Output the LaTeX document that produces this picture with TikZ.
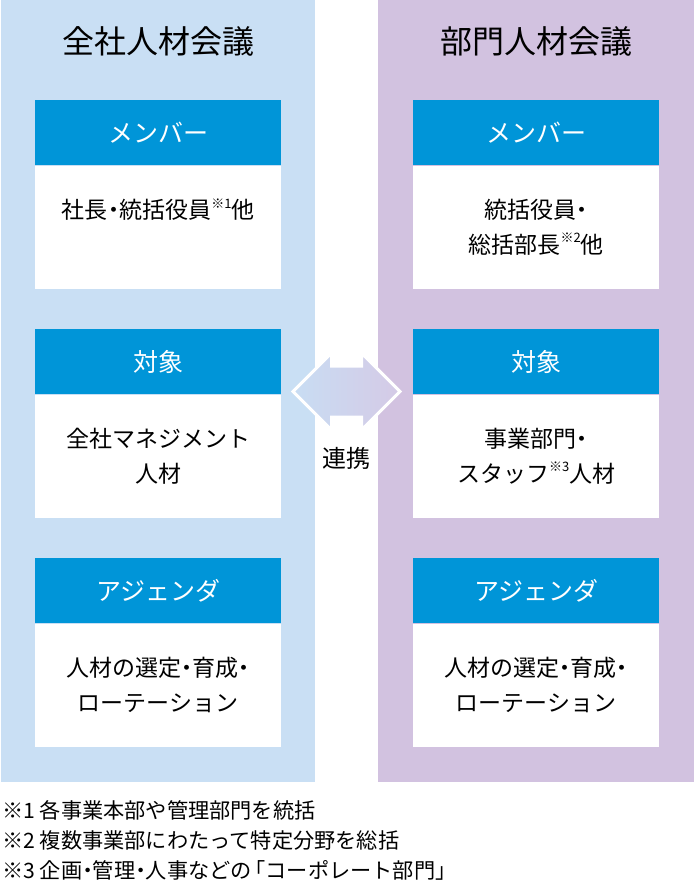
\documentclass[tikz,border=0pt]{standalone}
\usepackage{fontspec}
\setmainfont{Noto Sans CJK JP}
\definecolor{panelL}{RGB}{201,223,244}
\definecolor{panelR}{RGB}{210,194,224}
\definecolor{hdr}{RGB}{0,149,216}
\definecolor{arrL}{RGB}{200,221,243}
\definecolor{arrR}{RGB}{213,202,230}
\newcommand{\dt}{\kern-.25em・\kern-.25em}
\newcommand{\kome}[1]{\raisebox{.45em}{\fontsize{13}{13}\selectfont ※#1}}
\begin{document}
\begin{tikzpicture}[x=1pt,y=-1pt,
  panel/.style={draw=none,inner sep=0pt,minimum height=782pt,anchor=north west},
  titletxt/.style={inner sep=0pt,font=\fontsize{32}{32}\selectfont,text height=28.16pt,text depth=3.84pt},
  hdrbox/.style={anchor=north west,fill=hdr,text=white,inner sep=0pt,minimum width=246pt,minimum height=65pt,
    font=\fontsize{25}{25}\selectfont,text height=22pt,text depth=3pt},
  bodybox/.style={anchor=north west,fill=white,inner sep=0pt,minimum width=246pt,minimum height=123pt},
  bodyline/.style={inner sep=0pt,font=\fontsize{23}{23}\selectfont,text height=20.24pt,text depth=2.76pt},
  linktxt/.style={inner sep=0pt,font=\fontsize{24}{24}\selectfont,text height=21.12pt,text depth=2.88pt},
  notetxt/.style={inner sep=0pt,anchor=west,font=\fontsize{21.2}{21.2}\selectfont,text height=18.66pt,text depth=2.54pt},
  linkarrow/.style={left color=arrL,right color=arrR,draw=white,line width=3pt,line join=miter}
]
\useasboundingbox (0,0) rectangle (694,886);
% panels
\node[panel,fill=panelL,minimum width=314pt] (pL) at (1,0) {};
\node[panel,fill=panelR,minimum width=316pt] (pR) at (378,0) {};
% titles
\node[titletxt] (tL) at (158,41) {全社人材会議};
\node[titletxt] (tR) at (536,41) {部門人材会議};
% left column
\node[hdrbox] (hL1) at (35,100) {メンバー};
\node[bodybox] (bL1) at (hL1.south west) {};
\node[hdrbox] (hL2) at (35,329) {対象};
\node[bodybox] (bL2) at (hL2.south west) {};
\node[hdrbox] (hL3) at (35,558) {アジェンダ};
\node[bodybox] (bL3) at (hL3.south west) {};
% right column
\node[hdrbox] (hR1) at (413,100) {メンバー};
\node[bodybox] (bR1) at (hR1.south west) {};
\node[hdrbox] (hR2) at (413,329) {対象};
\node[bodybox] (bR2) at (hR2.south west) {};
\node[hdrbox] (hR3) at (413,558) {アジェンダ};
\node[bodybox] (bR3) at (hR3.south west) {};
% body texts
\node[bodyline] (tL1a) at ([yshift=-44.5pt]bL1.north) {社長\dt 統括役員\kome{1}他};
\node[bodyline] (tL2a) at ([yshift=-44.5pt]bL2.north) {全社マネジメント};
\node[bodyline] (tL2b) at ([yshift=-79pt]bL2.north) {人材};
\node[bodyline] (tL3a) at ([yshift=-44.5pt]bL3.north) {人材の選定\dt 育成\dt};
\node[bodyline] (tL3b) at ([yshift=-79pt]bL3.north) {ローテーション};
\node[bodyline] (tR1a) at ([yshift=-44.5pt]bR1.north) {統括役員\dt};
\node[bodyline] (tR1b) at ([yshift=-79pt]bR1.north) {総括部長\kome{2}他};
\node[bodyline] (tR2a) at ([yshift=-44.5pt]bR2.north) {事業部門\dt};
\node[bodyline] (tR2b) at ([yshift=-79pt]bR2.north) {スタッフ\kome{3}人材};
\node[bodyline] (tR3a) at ([yshift=-44.5pt]bR3.north) {人材の選定\dt 育成\dt};
\node[bodyline] (tR3b) at ([yshift=-79pt]bR3.north) {ローテーション};
% link arrow
\coordinate (mid) at (346.5,391.5);
\shadedraw[linkarrow] ([shift={(-53.5,0)}]mid) -- ([shift={(-15,-38.5)}]mid) -- ([shift={(-15,-25.5)}]mid)
  -- ([shift={(15,-25.5)}]mid) -- ([shift={(15,-38.5)}]mid) -- ([shift={(53.5,0)}]mid)
  -- ([shift={(15,38.5)}]mid) -- ([shift={(15,25.5)}]mid) -- ([shift={(-15,25.5)}]mid)
  -- ([shift={(-15,38.5)}]mid) -- cycle;
\node[linktxt] (link) at (346.5,458.5) {連携};
% footnotes
\node[notetxt] (n1) at (2,810) {※1 各事業本部や管理部門を統括};
\node[notetxt] (n2) at (2,840) {※2 複数事業部にわたって特定分野を総括};
\node[notetxt] (n3) at (2,870) {※3 企画\dt 管理\dt 人事などの\kern-.35em「コーポレート部門」};
\end{tikzpicture}
\end{document}
